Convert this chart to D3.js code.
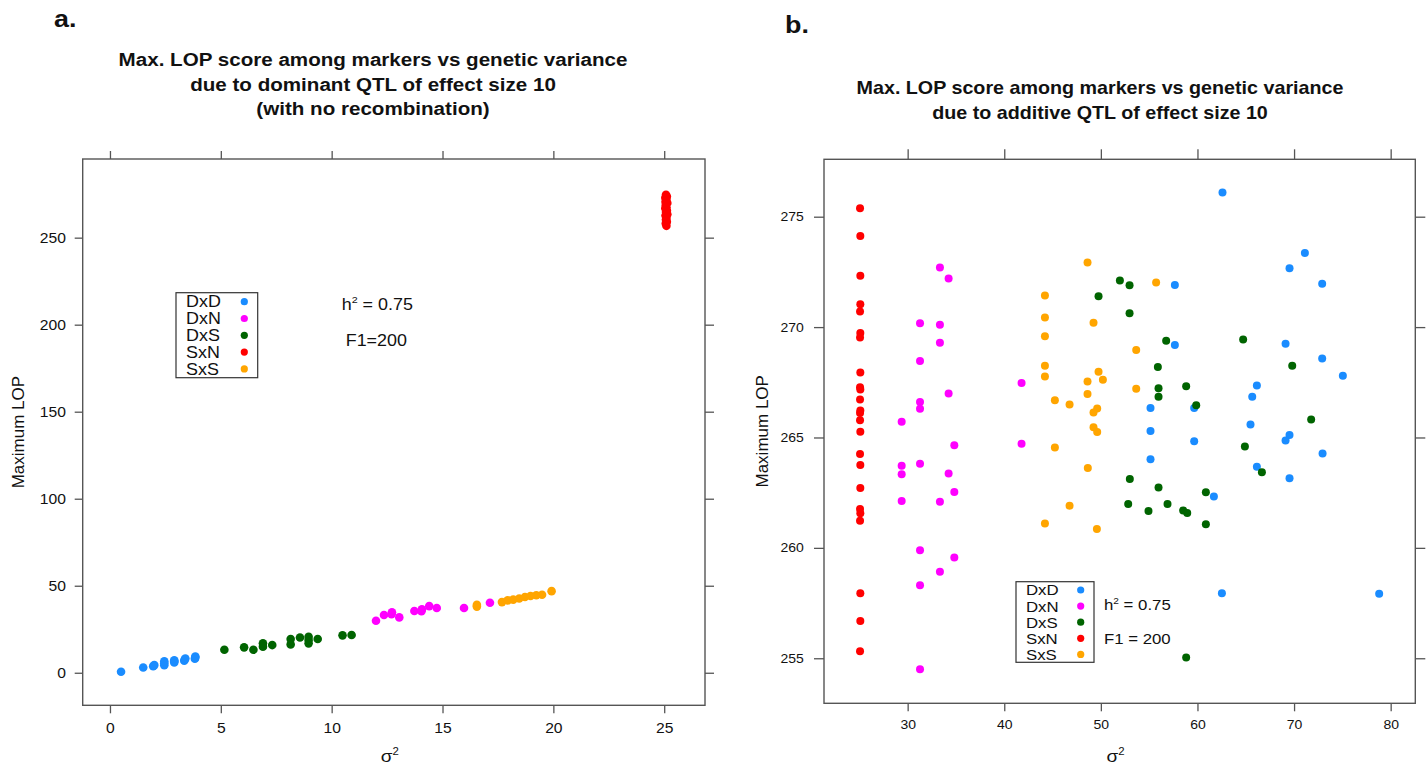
<!DOCTYPE html>
<html>
<head>
<meta charset="utf-8">
<script src="https://cdn.jsdelivr.net/npm/d3@7"></script>
<style>
  body { margin: 0; background: #fff; }
  svg { display: block; }
  text { font-family: "Liberation Sans", Arial, Helvetica, sans-serif; fill: #111; }
</style>
</head>
<body>
<svg id="chart" width="1427" height="770"></svg>
<script>
// crosses, in legend order
const groups = ['DxD', 'DxN', 'DxS', 'SxN', 'SxS']
const colors = ['#1a8cff', '#ff00ff', '#006400', '#ff0000', '#ffa500']

// panel a: dominant QTL, [sigma^2, max LOP]
const aDxD = [[0.5, 0.6], [1.5, 3.0], [1.95, 3.8], [2.0, 4.4], [2.45, 4.3], [2.45, 5.4], [2.45, 6.6],
  [2.9, 5.9], [2.9, 6.6], [2.9, 7.2], [3.35, 6.9], [3.37, 7.6], [3.4, 8.2], [3.83, 8.1], [3.85, 8.7], [3.85, 9.3]]
const aDxN = [[12.0, 29.9], [12.36, 33.2], [12.72, 34.7], [12.7, 33.6], [13.05, 31.8], [13.73, 35.5],
  [14.07, 36.4], [14.05, 35.4], [14.4, 38.3], [14.74, 37.2], [15.97, 37.2], [17.14, 40.2]]
const aDxS = [[5.16, 13.2], [6.05, 14.6], [6.47, 13.2], [6.9, 16.9], [6.9, 15.0], [7.32, 15.9], [8.15, 19.4],
  [8.15, 16.3], [8.57, 20.3], [8.96, 20.7], [8.96, 18.8], [8.96, 16.9], [9.37, 19.4], [10.49, 21.5], [10.9, 21.7]]
const aSxN = [[25.08, 274.7], [25.12, 273.6], [25.05, 272.9], [25.1, 271.8], [25.06, 270.6], [25.14, 269.9],
  [25.07, 268.7], [25.1, 267.5], [25.05, 266.9], [25.12, 265.6], [25.08, 264.8], [25.14, 263.4],
  [25.06, 262.7], [25.1, 261.3], [25.08, 260.4], [25.12, 259.1], [25.07, 258.2], [25.1, 256.8]]
const aSxS = [[16.55, 38.0], [16.55, 39.0], [17.68, 40.6], [17.94, 41.6], [18.19, 42.0], [18.46, 42.7],
  [18.72, 43.5], [18.97, 44.1], [19.23, 44.5], [19.49, 44.8], [19.92, 46.9]]

// panel b: additive QTL
const bDxD = [[62.59, 276.10], [71.12, 273.36], [69.53, 272.67], [57.66, 271.91], [72.91, 271.96],
  [57.66, 269.19], [69.12, 269.25], [72.91, 268.58], [75.05, 267.80], [66.15, 267.35], [65.67, 266.84],
  [55.14, 266.33], [59.66, 266.33], [65.49, 265.59], [55.14, 265.29], [69.53, 265.11], [69.12, 264.86],
  [59.66, 264.83], [72.95, 264.28], [55.14, 264.01], [66.15, 263.67], [69.53, 263.15], [61.70, 262.33],
  [62.53, 257.95], [78.81, 257.92]]
const bDxN = [[33.34, 272.70], [34.24, 272.20], [31.28, 270.17], [33.34, 270.11], [33.34, 269.29],
  [31.28, 268.46], [41.79, 267.47], [34.24, 266.99], [31.28, 266.61], [31.28, 266.30], [29.38, 265.71],
  [34.83, 264.65], [41.79, 264.72], [31.28, 263.81], [29.38, 263.72], [29.38, 263.33], [34.24, 263.37],
  [34.83, 262.53], [29.38, 262.12], [33.34, 262.09], [31.28, 259.89], [34.83, 259.56], [33.34, 258.92],
  [31.28, 258.31], [31.28, 254.50]]
const bDxS = [[51.97, 272.11], [52.97, 271.90], [49.76, 271.40], [52.97, 270.63], [56.76, 269.38],
  [64.73, 269.44], [55.90, 268.19], [69.81, 268.25], [55.97, 267.23], [58.83, 267.32], [55.97, 266.85],
  [59.87, 266.46], [71.77, 265.81], [64.91, 264.59], [66.67, 263.43], [53.00, 263.12], [55.97, 262.74],
  [60.87, 262.52], [52.83, 261.99], [56.90, 261.99], [54.93, 261.67], [58.52, 261.69], [58.94, 261.58],
  [60.87, 261.07], [58.83, 255.03]]
const bSxN = [[25.07, 275.38], [25.1, 274.13], [25.1, 272.33], [25.1, 271.04], [25.07, 270.71],
  [25.1, 269.73], [25.07, 269.53], [25.1, 267.94], [25.07, 267.27], [25.1, 267.17], [25.07, 266.72],
  [25.1, 266.22], [25.07, 266.11], [25.07, 265.78], [25.1, 265.26], [25.07, 264.25], [25.1, 263.75],
  [25.1, 262.71], [25.07, 261.76], [25.1, 261.57], [25.07, 261.23], [25.1, 257.94], [25.1, 256.69],
  [25.07, 255.32]]
const bSxS = [[48.62, 272.92], [44.21, 271.43], [44.21, 270.44], [44.21, 269.58], [44.21, 268.25],
  [44.21, 267.76], [48.62, 267.53], [48.62, 266.97], [45.24, 266.69], [46.76, 266.49], [45.24, 264.55],
  [55.72, 272.02], [49.24, 270.20], [53.66, 268.96], [49.76, 267.98], [50.21, 267.62], [53.66, 267.21],
  [49.62, 266.31], [49.24, 266.13], [49.24, 265.46], [49.62, 265.25], [48.65, 263.62], [49.59, 260.86],
  [46.76, 261.91], [44.21, 261.10]]

const aXTicks = [0, 5, 10, 15, 20, 25]
const aYTicks = [0, 50, 100, 150, 200, 250]
const bXTicks = [30, 40, 50, 60, 70, 80]
const bYTicks = [255, 260, 265, 270, 275]

const aTitle = ['Max. LOP score among markers vs genetic variance',
  'due to dominant QTL of effect size 10', '(with no recombination)']
const bTitle = ['Max. LOP score among markers vs genetic variance',
  'due to additive QTL of effect size 10']

// the picture looks a bit wider than the font, so text is stretched a little
const SX = 1.12
const svg = d3.select('#chart')

function addText (g, x, y, str, size, anchor, bold) {
  return g.append('text')
    .attr('transform', `translate(${x},${y}) scale(${SX},1)`)
    .attr('text-anchor', anchor || 'start')
    .style('font-size', size + 'px')
    .style('font-weight', bold ? 'bold' : 'normal')
    .text(str)
}

function addSup (g, x, y, base, sup, rest, size, anchor) {
  let t = g.append('text')
    .attr('transform', `translate(${x},${y}) scale(${SX},1)`)
    .attr('text-anchor', anchor || 'start')
    .style('font-size', size + 'px')
  t.append('tspan').text(base)
  t.append('tspan').attr('dy', -size * 0.42).style('font-size', (size * 0.6) + 'px').text(sup)
  if (rest) t.append('tspan').attr('dy', size * 0.42).text(rest)
  return t
}

function drawPanel (p) {
  let g = svg.append('g').attr('class', 'panel')
  let x = d3.scaleLinear().domain(p.xDomain).range([p.box[0], p.box[1]])
  let y = d3.scaleLinear().domain(p.yDomain).range([p.box[3], p.box[2]])

  addText(g, p.letter[0], p.letter[1], p.letter[2], 24, 'start', true)
  p.title.forEach(function (line, i) {
    addText(g, p.titleX, p.titleY + i * 24.5, line, p.titleSize, 'middle', true)
  })

  function axis (a, tx, ty, labels, pad, size) {
    let ag = g.append('g').attr('transform', `translate(${tx},${ty})`)
      .call(a.tickPadding(pad).tickFormat(labels ? d3.format('d') : ''))
      .attr('font-size', null).attr('font-family', null)
    ag.select('.domain').remove()
    ag.selectAll('line').attr('stroke', '#555').attr('stroke-width', 1.3)
    ag.selectAll('text').attr('fill', '#111').style('font-size', size + 'px')
      .attr('transform', `scale(${SX},1)`)
    return ag
  }
  axis(d3.axisBottom(x).tickValues(p.xTicks).tickSize(p.tick[0]), 0, p.box[3], true, p.pad[0], p.tickSize)
  axis(d3.axisTop(x).tickValues(p.xTicks).tickSize(p.tick[1]), 0, p.box[2], false, 0, p.tickSize)
  axis(d3.axisLeft(y).tickValues(p.yTicks).tickSize(p.tick[2]), p.box[0], 0, true, p.pad[1], p.tickSize)
  axis(d3.axisRight(y).tickValues(p.yTicks).tickSize(p.tick[3]), p.box[1], 0, false, 0, p.tickSize)

  g.append('rect')
    .attr('x', p.box[0]).attr('y', p.box[2])
    .attr('width', p.box[1] - p.box[0]).attr('height', p.box[3] - p.box[2])
    .attr('fill', 'none').attr('stroke', '#555').attr('stroke-width', 1.4)

  // axis titles
  let yl = (p.box[2] + p.box[3]) / 2
  g.append('text')
    .attr('transform', `translate(${p.yLabelX},${yl}) rotate(-90)`)
    .attr('text-anchor', 'middle').style('font-size', '17px')
    .text('Maximum LOP')
  addSup(g, (p.box[0] + p.box[1]) / 2 - 4, 762, 'σ', '2', null, 17, 'middle')

  // points
  p.data.forEach(function (pts, i) {
    g.append('g').attr('class', 'series ' + groups[i])
      .selectAll('circle')
      .data(pts)
      .enter()
      .append('circle')
        .attr('cx', function (d) { return x(d[0]) })
        .attr('cy', function (d) { return y(d[1]) })
        .attr('r', p.r)
        .attr('fill', colors[i])
  })

  // key
  let k = p.key
  let kg = g.append('g').attr('class', 'key')
  kg.append('rect')
    .attr('x', k.x).attr('y', k.y).attr('width', k.w).attr('height', k.h)
    .attr('fill', '#fff').attr('stroke', '#333').attr('stroke-width', 1.2)
  groups.forEach(function (name, i) {
    let cy = k.y + k.first + i * k.step
    addText(kg, k.x + 10, cy + k.size * 0.36, name, k.size, 'start')
    kg.append('circle').attr('cx', k.dotX).attr('cy', cy).attr('r', 3.6).attr('fill', colors[i])
  })

  addSup(g, p.note[0], p.note[1], 'h', '2', p.note[2], k.size, 'start')
  addText(g, p.note[3], p.note[4], p.note[5], k.size, 'start')
}

drawPanel({
  letter: [54, 27, 'a.'],
  title: aTitle, titleX: 373, titleY: 66, titleSize: 18.4,
  box: [82.7, 705, 159, 705.3],
  xDomain: [-1.23, 26.84], yDomain: [-18.7, 295.2],
  xTicks: aXTicks, yTicks: aYTicks,
  tick: [8, 8, 8, 9], pad: [9.7, 6.9], tickSize: 14,
  yLabelX: 24,
  r: 4.3,
  data: [aDxD, aDxN, aDxS, aSxN, aSxS],
  key: { x: 176, y: 292.7, w: 81.7, h: 85, first: 9, step: 16.8, dotX: 244.3, size: 16 },
  note: [341.7, 310, ' = 0.75', 345.7, 345.7, 'F1=200']
})

drawPanel({
  letter: [785, 33, 'b.'],
  title: bTitle, titleX: 1100, titleY: 94, titleSize: 17.6,
  box: [824, 1415.3, 159.3, 703.3],
  xDomain: [21.34, 82.55], yDomain: [252.96, 277.6],
  xTicks: bXTicks, yTicks: bYTicks,
  tick: [8, 10, 10, 10], pad: [8.7, 8], tickSize: 12.5,
  yLabelX: 768,
  r: 4,
  data: [bDxD, bDxN, bDxS, bSxN, bSxS],
  key: { x: 1016, y: 581.7, w: 78, h: 80.6, first: 8.3, step: 16.1, dotX: 1080.7, size: 15 },
  note: [1104, 610, ' = 0.75', 1104, 644, 'F1 = 200']
})
</script>
</body>
</html>
